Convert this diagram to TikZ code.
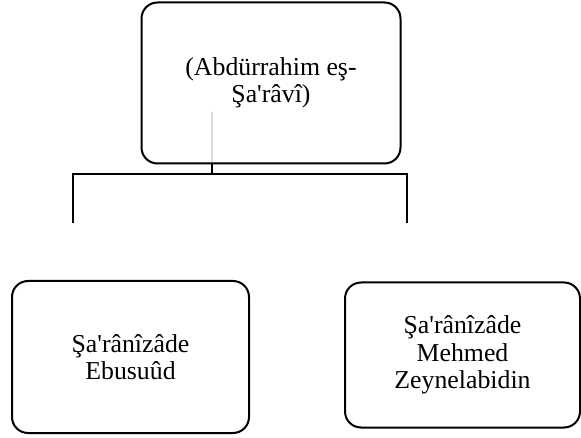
\documentclass[tikz,border=0pt]{standalone}
\usepackage{fontspec}
\setmainfont{Liberation Serif}[Ligatures=TeXOff]
\begin{document}
\begin{tikzpicture}[x=1pt,y=-1pt,
  box/.style={draw=black,line width=2pt,rounded corners=16pt,align=center,
    inner sep=0pt,font=\fontsize{25.8}{27.5}\selectfont},
  conn/.style={draw=black,line width=2pt},
  ghost/.style={draw=black!13,line width=2pt}]
\useasboundingbox (0,0) rectangle (581,438);
\coordinate (j) at (212,174);
\coordinate (l) at (73,223);
\coordinate (r) at (407,223);
\draw[ghost] (212,112) -- (212,163);
\node[box,minimum width=259pt,minimum height=161pt] (top) at (271,83) {(Abdürrahim eş-\\Şa'râvî)};
\node[box,minimum width=237pt,minimum height=152pt] (a) at (130.5,357) {Şa'rânîzâde\\Ebusuûd};
\node[box,minimum width=235pt,minimum height=145pt] (b) at (462.5,355) {Şa'rânîzâde\\Mehmed\\Zeynelabidin};
\draw[conn] (top.south -| j) -- (j);
\draw[conn] (l) |- (r |- j) -- (r);
\end{tikzpicture}
\end{document}
